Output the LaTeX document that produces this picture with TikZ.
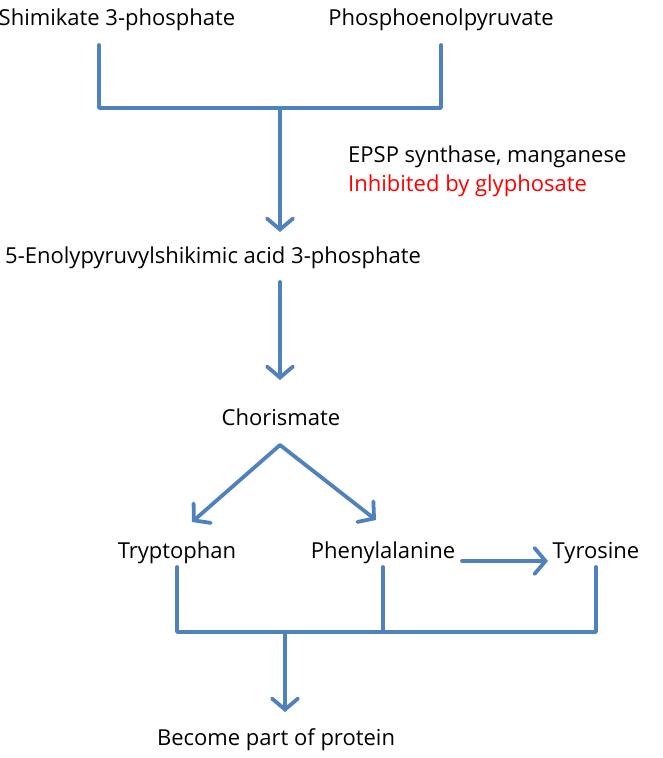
\documentclass[tikz,border=0pt]{standalone}
\usepackage{fontspec}
\setmainfont{Open Sans}
\usetikzlibrary{arrows.meta}
\definecolor{flowblue}{RGB}{79,129,189}
\tikzset{
  lbl/.style={font=\fontsize{22}{26}\selectfont, inner sep=0pt},
  bar/.style={flowblue, line width=3.8pt, line cap=round, line join=round},
  flow/.style={bar, -{Straight Barb[length=11pt, width=26pt, line cap=round]}}
}
\begin{document}
\begin{tikzpicture}[x=1pt, y=-1pt]
\useasboundingbox (0,0) rectangle (663,758);
% Labels
\node[lbl] (shik) at (117,20) {Shimikate 3-phosphate};
\node[lbl] (pep) at (441,20) {Phosphoenolpyruvate};
\node[lbl, anchor=west] (enz) at (348,157) {EPSP synthase, manganese};
\node[lbl, anchor=west, text=red] (inh) at (348,186) {Inhibited by glyphosate};
\node[lbl, anchor=west] (epsp) at (5,258) {5-Enolypyruvylshikimic acid 3-phosphate};
\node[lbl] (chor) at (281,417) {Chorismate};
\node[lbl] (trp) at (177,553) {Tryptophan};
\node[lbl] (phe) at (383,553) {Phenylalanine};
\node[lbl] (tyr) at (596,553) {Tyrosine};
\node[lbl] (prot) at (276,740) {Become part of protein};
% Junctions
\coordinate (j1) at (99,108);
\coordinate (j2) at (441,108);
\coordinate (jm) at (280,108);
\coordinate (apex) at (280,445);
\coordinate (b1) at (177,632);
\coordinate (b2) at (383,632);
\coordinate (b3) at (596,632);
\coordinate (bm) at (285,632);
% Top bracket
\draw[bar] (99,45) -- (j1) -- (j2) -- (441,45);
\draw[flow] (jm) -- (280,232);
\draw[flow] (280,282) -- (280,380);
% Branches
\draw[flow] (apex) -- (192,522);
\draw[flow] (apex) -- (376,520);
\draw[flow] (462,561) -- (548,561);
% Bottom bracket
\draw[bar] (177,567) -- (b1) -- (b3) -- (596,567);
\draw[bar] (383,567) -- (b2);
\draw[flow] (bm) -- (285,712);
\end{tikzpicture}
\end{document}
